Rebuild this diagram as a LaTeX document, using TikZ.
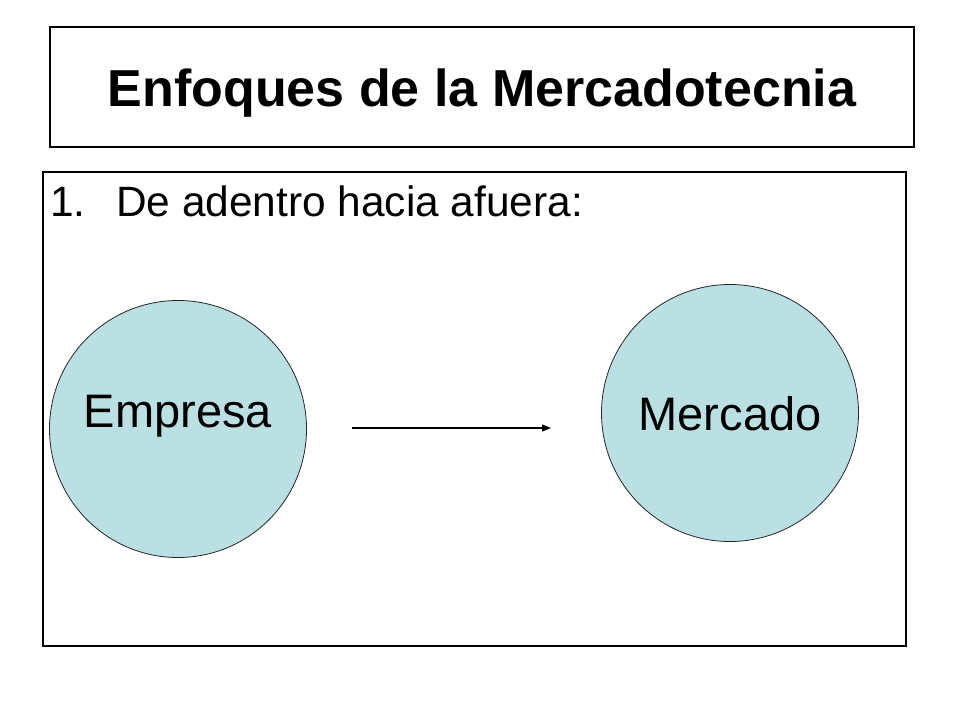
\documentclass[tikz,border=0pt]{standalone}
\usepackage{fontspec}
\setmainfont{Liberation Sans}
\usetikzlibrary{arrows.meta}
\definecolor{circfill}{RGB}{187,224,227}
\tikzset{
  frame/.style={draw=black, line width=1.2pt},
  ball/.style={circle, draw=black!85, line width=0.8pt, fill=circfill, minimum size=257pt, inner sep=0pt},
  balltext/.style={anchor=base, inner sep=0pt, font=\fontsize{47}{54}\selectfont},
  conn/.style={line width=1.1pt, -{Triangle[length=9pt,width=7pt]}}
}
\begin{document}
\begin{tikzpicture}[x=1pt,y=-1pt]
\useasboundingbox (0,0) rectangle (960,720);
\fill[white] (0,0) rectangle (960,720);
% title box
\draw[frame] (50,27) rectangle (914,147);
\node[anchor=base, inner sep=0pt, font=\fontsize{52}{60}\selectfont\bfseries] (title) at (482,106) {Enfoques de la Mercadotecnia};
% content box
\draw[frame] (43,172) rectangle (906,646);
\node[anchor=base west, inner sep=0pt, font=\fontsize{42.4}{50}\selectfont] (item) at (50,216) {\makebox[66pt][l]{1.}De adentro hacia afuera:};
% circles
\node[ball] (emp) at (178,429) {};
\node[ball] (mer) at (730,413) {};
\node[balltext] (emptext) at (178,427) {Empresa};
\node[balltext] (mertext) at (730,430) {Mercado};
% arrow
\coordinate (a1) at (352,428);
\coordinate (a2) at (551,428);
\draw[conn] (a1) -- (a2);
\end{tikzpicture}
\end{document}
